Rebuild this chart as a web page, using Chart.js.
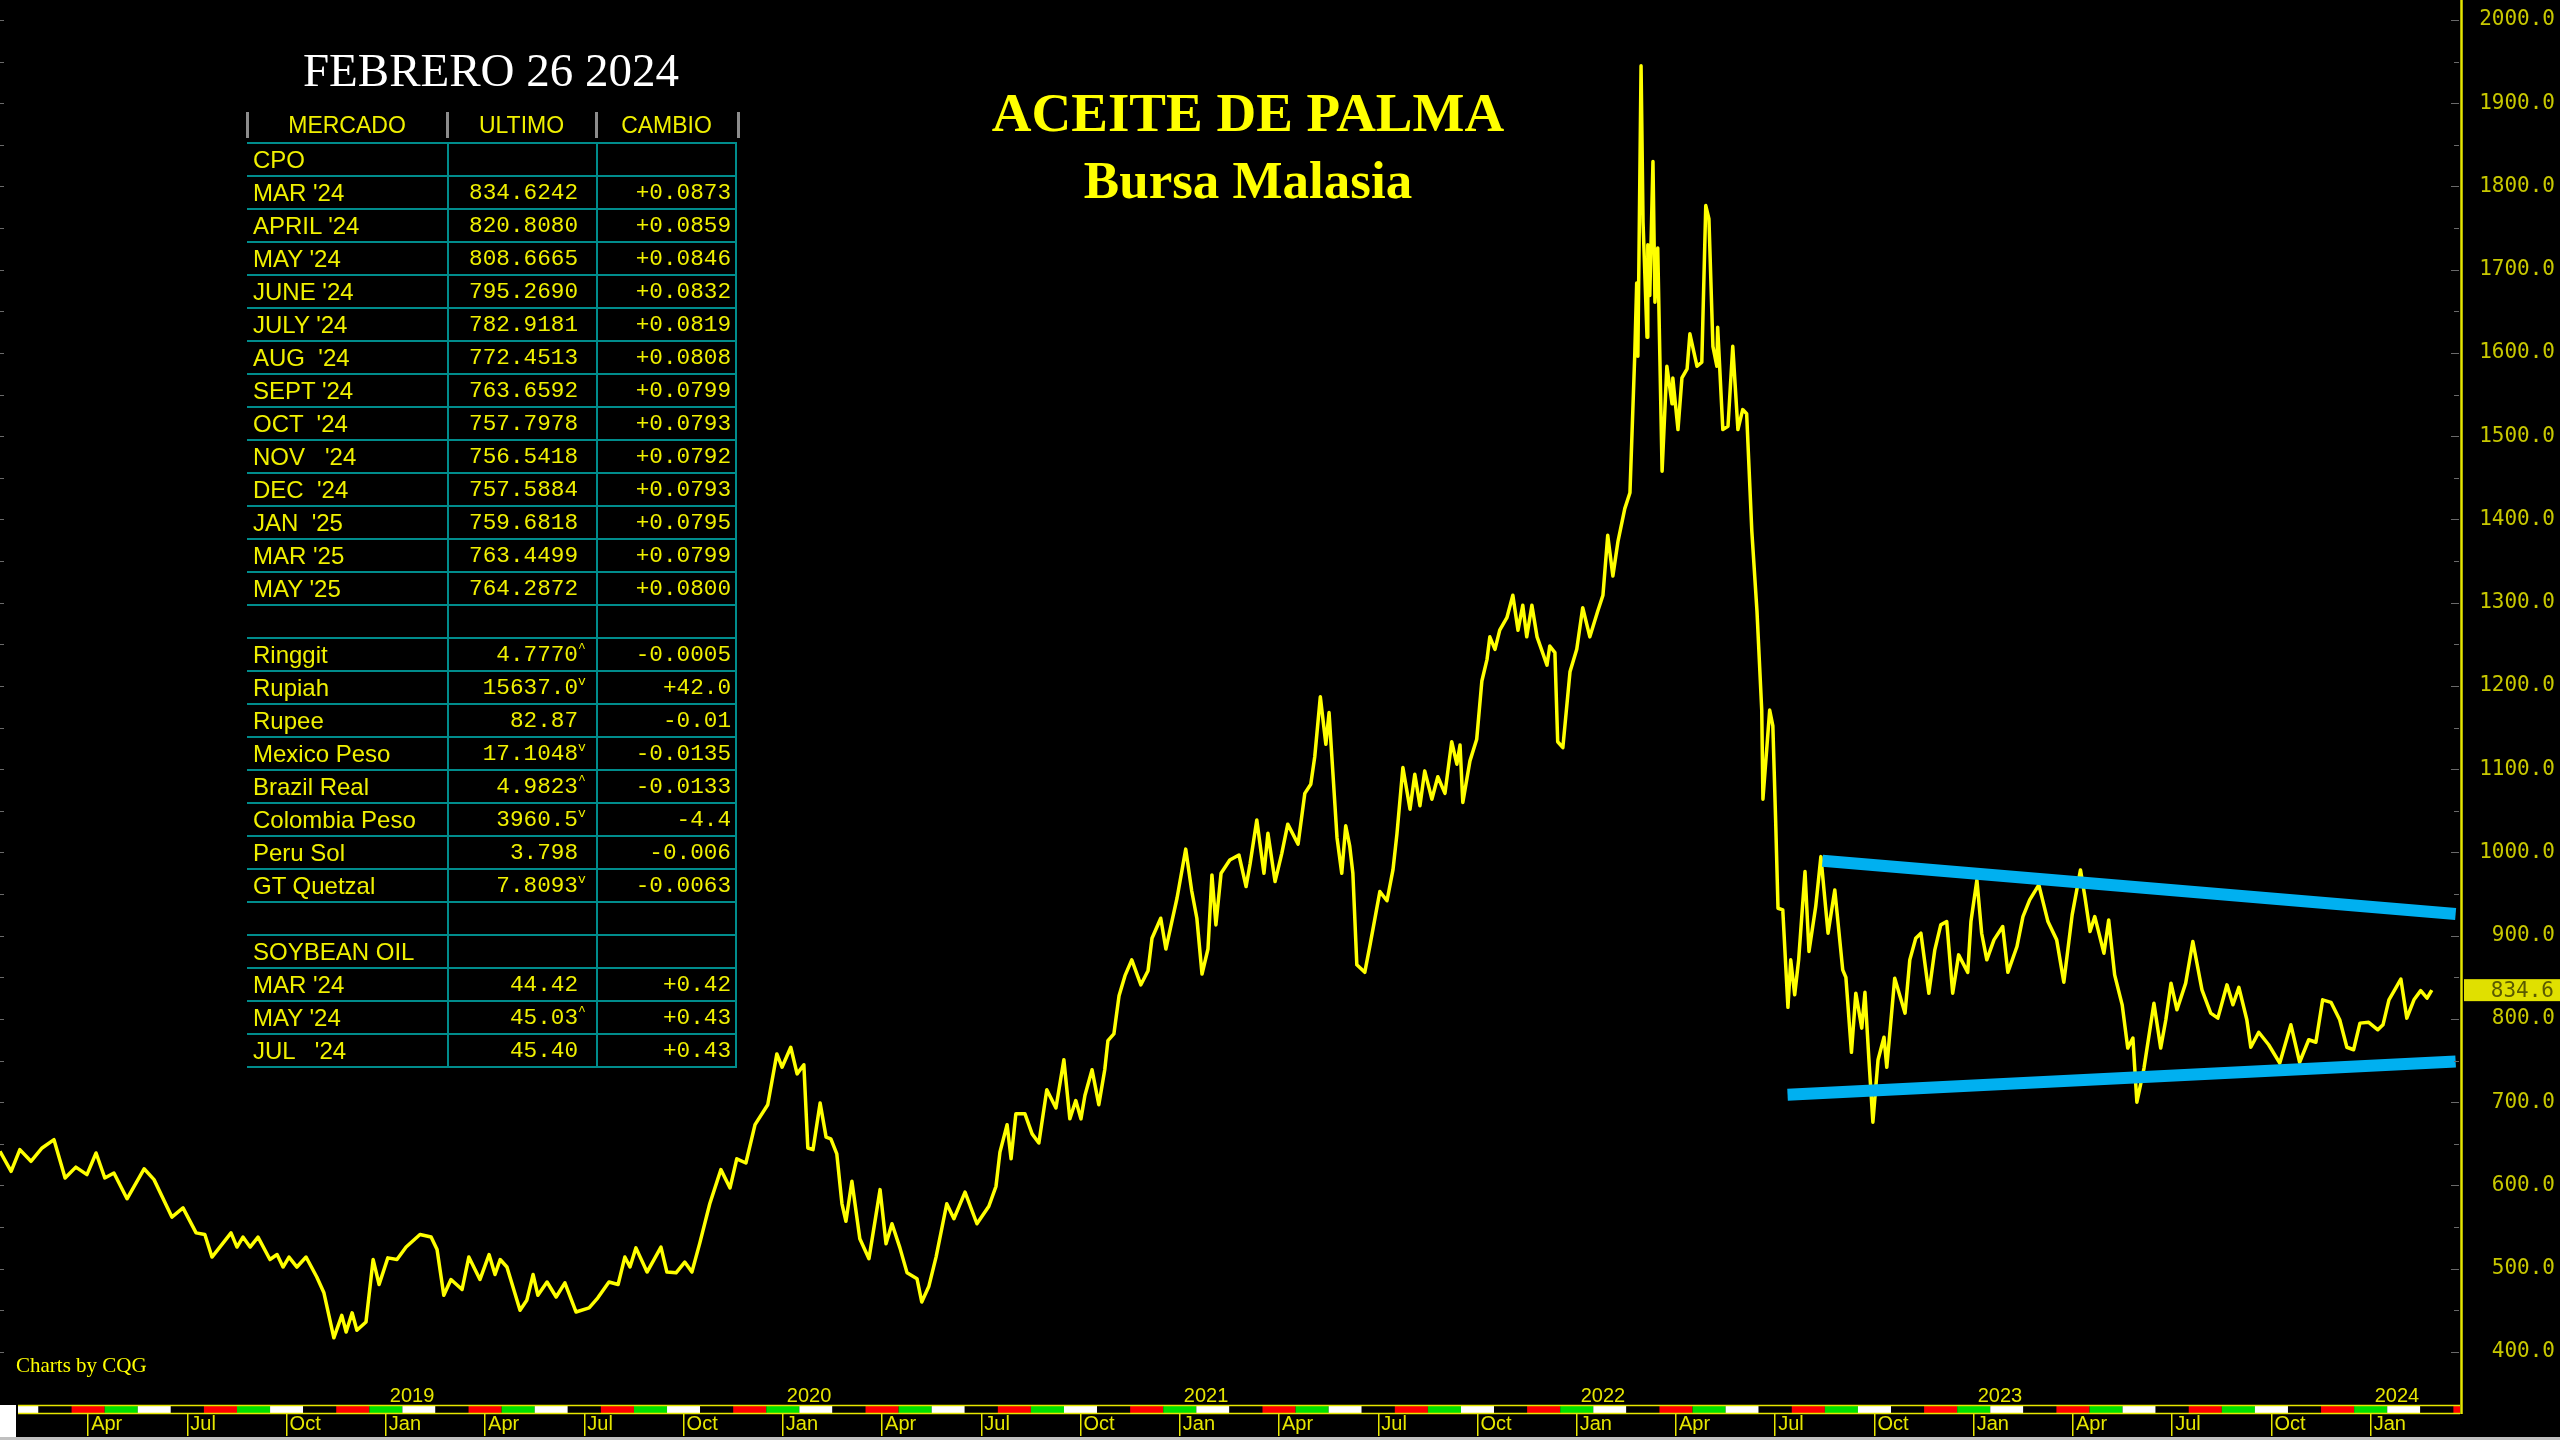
<!DOCTYPE html>
<html lang="es">
<head>
<meta charset="utf-8">
<title>Aceite de Palma - Bursa Malasia</title>
<script src="https://cdn.jsdelivr.net/npm/chart.js@4.4.1/dist/chart.umd.min.js"></script>
<style>
  html, body { margin: 0; padding: 0; background: #000; }
  #lienzo { position: relative; width: 2560px; height: 1440px; overflow: hidden; background: #000; }
  #grafico { position: absolute; left: 0; top: 0; }
  .texto { position: absolute; white-space: nowrap; }
  #fecha { left: 191px; top: 47px; width: 600px; text-align: center; font: 47px/47px 'Liberation Serif', serif; color: #fff; }
  #titulo { left: 948px; top: 85px; width: 600px; text-align: center; font: bold 55px/55px 'Liberation Serif', serif; color: #ffff00; }
  #subtitulo { left: 948px; top: 154px; width: 600px; text-align: center; font: bold 53px/53px 'Liberation Serif', serif; color: #ffff00; }
  #firma { left: 16px; top: 1355px; font: 21px/21px 'Liberation Serif', serif; color: #ffff00; }

  #tabla { position: absolute; left: 247px; top: 109px; border-collapse: separate; border-spacing: 0; table-layout: fixed; color: #f0f000; }
  #tabla th { position: relative; height: 35px; box-sizing: border-box; padding: 0; font: 23px 'Liberation Sans', Arial, sans-serif; font-weight: normal; text-align: center; border-bottom: 2px solid #008c8c; }
  #tabla th::before { content: ''; position: absolute; left: -1px; top: 3px; height: 26px; border-left: 3px solid #8c8c8c; }
  #tabla th:last-child::after { content: ''; position: absolute; right: -3px; top: 3px; height: 26px; border-left: 3px solid #8c8c8c; }
  #tabla td { height: 33px; box-sizing: border-box; padding: 0; border-bottom: 2px solid #008c8c; white-space: pre; vertical-align: middle; }
  #tabla td.mercado { padding-left: 6px; font: 24px 'Liberation Sans', Arial, sans-serif; }
  #tabla td.ultimo { border-left: 2px solid #008c8c; text-align: right; padding-right: 2px; font: 22.7px 'Liberation Mono', monospace; }
  #tabla td.cambio { border-left: 2px solid #008c8c; border-right: 2px solid #008c8c; text-align: right; padding-right: 4px; font: 22.7px 'Liberation Mono', monospace; }
  #tabla .marca { display: inline-block; width: 16px; text-align: left; font-size: 13px; vertical-align: 9px; }
</style>
</head>
<body>
<div id="lienzo">
  <canvas id="grafico" width="2560" height="1440"></canvas>
  <div class="texto" id="fecha">FEBRERO 26 2024</div>
  <div class="texto" id="titulo">ACEITE DE PALMA</div>
  <div class="texto" id="subtitulo">Bursa Malasia</div>
  <div class="texto" id="firma">Charts by CQG</div>
  <table id="tabla">
    <thead><tr><th style="width:200px">MERCADO</th><th style="width:149px">ULTIMO</th><th style="width:141px">CAMBIO</th></tr></thead>
    <tbody id="cuerpo-tabla"></tbody>
  </table>
</div>
<script>
// Precio diario del CPO (fecha en año decimal)
const fechas = [
  2018.028, 2018.056, 2018.078, 2018.106, 2018.134, 2018.164, 2018.192, 2018.219, 2018.247, 2018.270,
  2018.292, 2018.315, 2018.348, 2018.391, 2018.416, 2018.461, 2018.489, 2018.522, 2018.544, 2018.562,
  2018.610, 2018.625, 2018.640, 2018.658, 2018.678, 2018.708, 2018.726, 2018.741, 2018.756, 2018.776,
  2018.799, 2018.826, 2018.844, 2018.869, 2018.889, 2018.900, 2018.915, 2018.927, 2018.950, 2018.968,
  2018.983, 2019.005, 2019.028, 2019.051, 2019.086, 2019.114, 2019.129, 2019.146, 2019.164, 2019.192,
  2019.209, 2019.237, 2019.260, 2019.275, 2019.288, 2019.305, 2019.338, 2019.355, 2019.371, 2019.383,
  2019.406, 2019.429, 2019.451, 2019.479, 2019.512, 2019.534, 2019.562, 2019.585, 2019.602, 2019.615,
  2019.630, 2019.658, 2019.693, 2019.708, 2019.731, 2019.753, 2019.771, 2019.791, 2019.816, 2019.844,
  2019.867, 2019.884, 2019.907, 2019.930, 2019.962, 2019.985, 2019.998, 2020.020, 2020.036, 2020.053,
  2020.063, 2020.076, 2020.094, 2020.109, 2020.121, 2020.136, 2020.149, 2020.159, 2020.174, 2020.194,
  2020.217, 2020.245, 2020.260, 2020.275, 2020.295, 2020.313, 2020.338, 2020.350, 2020.368, 2020.386,
  2020.413, 2020.431, 2020.459, 2020.489, 2020.519, 2020.537, 2020.547, 2020.565, 2020.575, 2020.587,
  2020.610, 2020.628, 2020.645, 2020.665, 2020.688, 2020.708, 2020.723, 2020.738, 2020.751, 2020.761,
  2020.779, 2020.796, 2020.811, 2020.819, 2020.834, 2020.847, 2020.862, 2020.879, 2020.902, 2020.920,
  2020.930, 2020.952, 2020.965, 2020.980, 2020.993, 2021.015, 2021.030, 2021.043, 2021.056, 2021.071,
  2021.081, 2021.091, 2021.104, 2021.126, 2021.149, 2021.167, 2021.177, 2021.194, 2021.212, 2021.222,
  2021.240, 2021.257, 2021.272, 2021.298, 2021.315, 2021.330, 2021.340, 2021.354, 2021.368, 2021.376,
  2021.391, 2021.396, 2021.408, 2021.418, 2021.428, 2021.436, 2021.446, 2021.466, 2021.479, 2021.504,
  2021.522, 2021.537, 2021.547, 2021.562, 2021.580, 2021.592, 2021.605, 2021.617, 2021.635, 2021.650,
  2021.668, 2021.685, 2021.698, 2021.706, 2021.713, 2021.731, 2021.748, 2021.761, 2021.774, 2021.781,
  2021.794, 2021.806, 2021.824, 2021.839, 2021.852, 2021.864, 2021.874, 2021.887, 2021.900, 2021.925,
  2021.932, 2021.945, 2021.952, 2021.965, 2021.983, 2022.000, 2022.015, 2022.033, 2022.053, 2022.066,
  2022.078, 2022.091, 2022.104, 2022.121, 2022.134, 2022.146, 2022.151, 2022.154, 2022.162, 2022.167,
  2022.177, 2022.179, 2022.184, 2022.192, 2022.197, 2022.204, 2022.215, 2022.227, 2022.240, 2022.242,
  2022.255, 2022.265, 2022.278, 2022.285, 2022.303, 2022.315, 2022.325, 2022.333, 2022.343, 2022.353,
  2022.355, 2022.368, 2022.381, 2022.393, 2022.406, 2022.418, 2022.428, 2022.441, 2022.454, 2022.466,
  2022.469, 2022.486, 2022.494, 2022.501, 2022.507, 2022.519, 2022.532, 2022.539, 2022.549, 2022.559,
  2022.575, 2022.585, 2022.602, 2022.615, 2022.633, 2022.650, 2022.670, 2022.678, 2022.692, 2022.703,
  2022.718, 2022.726, 2022.736, 2022.746, 2022.759, 2022.774, 2022.781, 2022.801, 2022.827, 2022.839,
  2022.854, 2022.867, 2022.887, 2022.902, 2022.917, 2022.932, 2022.947, 2022.962, 2022.985, 2022.993,
  2023.008, 2023.020, 2023.033, 2023.051, 2023.073, 2023.086, 2023.109, 2023.124, 2023.141, 2023.164,
  2023.187, 2023.209, 2023.227, 2023.248, 2023.269, 2023.280, 2023.293, 2023.305, 2023.328, 2023.340,
  2023.355, 2023.374, 2023.388, 2023.401, 2023.411, 2023.429, 2023.454, 2023.471, 2023.484, 2023.497,
  2023.512, 2023.534, 2023.552, 2023.575, 2023.597, 2023.615, 2023.638, 2023.653, 2023.668, 2023.688,
  2023.698, 2023.718, 2023.743, 2023.771, 2023.799, 2023.821, 2023.844, 2023.862, 2023.879, 2023.900,
  2023.922, 2023.940, 2023.957, 2023.973, 2023.995, 2024.018, 2024.031, 2024.046, 2024.063, 2024.076,
  2024.091, 2024.109, 2024.126, 2024.142, 2024.154
];
const precios = [
  641, 617, 643, 629, 645, 655, 609, 622, 613, 639,
  609, 615, 584, 620, 607, 562, 573, 543, 541, 514,
  543, 526, 538, 526, 538, 511, 517, 502, 514, 502,
  514, 490, 471, 417, 444, 424, 447, 426, 436, 511,
  481, 513, 511, 526, 541, 538, 523, 468, 487, 475,
  514, 487, 517, 493, 511, 502, 450, 462, 493, 468,
  484, 466, 483, 448, 453, 465, 484, 481, 514, 502,
  525, 496, 526, 496, 495, 508, 496, 531, 578, 619,
  597, 632, 627, 673, 697, 758, 742, 766, 734, 745,
  645, 643, 699, 658, 656, 638, 578, 557, 605, 536,
  512, 595, 530, 554, 525, 495, 488, 460, 479, 514,
  578, 560, 592, 554, 575, 599, 640, 673, 632, 686,
  686, 662, 651, 715, 693, 751, 680, 702, 680, 708,
  739, 697, 739, 774, 782, 828, 852, 871, 841, 858,
  897, 921, 884, 917, 945, 1004, 954, 921, 854, 884,
  973, 913, 975, 991, 997, 959, 986, 1039, 975, 1023,
  965, 999, 1034, 1010, 1071, 1082, 1115, 1187, 1130, 1168,
  1056, 1018, 975, 1032, 1008, 975, 865, 856, 888, 953,
  942, 979, 1022, 1102, 1052, 1094, 1056, 1098, 1064, 1091,
  1071, 1133, 1106, 1129, 1060, 1110, 1136, 1206, 1232, 1259,
  1244, 1267, 1282, 1309, 1267, 1297, 1259, 1297, 1259, 1225,
  1248, 1240, 1133, 1126, 1217, 1244, 1294, 1259, 1290, 1309,
  1381, 1332, 1374, 1413, 1432, 1596, 1684, 1596, 1945, 1757,
  1619, 1730, 1669, 1830, 1661, 1726, 1458, 1584, 1539, 1570,
  1508, 1570, 1581, 1623, 1584, 1589, 1777, 1761, 1608, 1584,
  1631, 1508, 1512, 1608, 1508, 1532, 1527, 1386, 1290, 1171,
  1064, 1171, 1152, 1039, 933, 931, 814, 871, 829, 871,
  977, 881, 935, 995, 903, 955, 859, 850, 760, 831,
  789, 832, 751, 676, 751, 778, 742, 849, 807, 871,
  897, 903, 831, 883, 913, 917, 831, 877, 856, 917,
  967, 903, 871, 895, 911, 856, 887, 923, 943, 961,
  917, 895, 844, 925, 979, 947, 905, 923, 879, 919,
  853, 817, 765, 777, 700, 741, 819, 765, 799, 843,
  811, 843, 893, 835, 807, 801, 841, 817, 838, 799,
  766, 784, 769, 747, 793, 748, 775, 772, 823, 820,
  799, 766, 763, 795, 796, 787, 793, 823, 837, 848,
  801, 823, 834, 825, 834.6
];

// Líneas de tendencia (triángulo)
const tendSupFechas = [2022.619, 2024.214];
const tendSupPrecios = [990, 926];
const tendInfFechas = [2022.531, 2024.214];
const tendInfPrecios = [709, 749];

// Ejes
const valoresEjeY = [400, 500, 600, 700, 800, 900, 1000, 1100, 1200, 1300, 1400, 1500, 1600, 1700, 1800, 1900, 2000];
const anios = ['2019', '2020', '2021', '2022', '2023', '2024'];
const mesesTrimestre = ['Jan', 'Apr', 'Jul', 'Oct'];

// Tabla de mercados
const mercados = ['CPO', "MAR '24", "APRIL '24", "MAY '24", "JUNE '24", "JULY '24", "AUG  '24", "SEPT '24", "OCT  '24", "NOV   '24", "DEC  '24", "JAN  '25", "MAR '25", "MAY '25", '',
  'Ringgit', 'Rupiah', 'Rupee', 'Mexico Peso', 'Brazil Real', 'Colombia Peso', 'Peru Sol', 'GT Quetzal', '',
  'SOYBEAN OIL', "MAR '24", "MAY '24", "JUL   '24"];
const ultimos = ['', '834.6242', '820.8080', '808.6665', '795.2690', '782.9181', '772.4513', '763.6592', '757.7978', '756.5418', '757.5884', '759.6818', '763.4499', '764.2872', '',
  '4.7770', '15637.0', '82.87', '17.1048', '4.9823', '3960.5', '3.798', '7.8093', '',
  '', '44.42', '45.03', '45.40'];
const marcas = ['', '', '', '', '', '', '', '', '', '', '', '', '', '', '',
  '^', 'v', '', 'v', '^', 'v', '', 'v', '',
  '', '', '^', ''];
const cambios = ['', '+0.0873', '+0.0859', '+0.0846', '+0.0832', '+0.0819', '+0.0808', '+0.0799', '+0.0793', '+0.0792', '+0.0793', '+0.0795', '+0.0799', '+0.0800', '',
  '-0.0005', '+42.0', '-0.01', '-0.0135', '-0.0133', '-4.4', '-0.006', '-0.0063', '',
  '', '+0.42', '+0.43', '+0.43'];

const X_MIN = 2018.028;
const X_MAX = 2024.225;
const coloresFranja = ['#ffffff', '#000000', '#ff0000', '#00e000']; // por mes, ciclo de 4
const AMARILLO = '#e6e600';

function construirTabla() {
  const cuerpo = document.getElementById('cuerpo-tabla');
  mercados.forEach((m, i) => {
    const fila = document.createElement('tr');
    fila.innerHTML = `<td class="mercado">${m}</td>` +
      `<td class="ultimo">${ultimos[i]}<span class="marca">${marcas[i]}</span></td>` +
      `<td class="cambio">${cambios[i]}</td>`;
    cuerpo.appendChild(fila);
  });
}

const decoracion = {
  id: 'decoracion',
  afterDraw(chart) {
    const { ctx, chartArea: area, scales } = chart;
    const x = scales.x, y = scales.y, xMes = scales.xMes;
    ctx.save();

    // marcas menores de precio (cada 50)
    ctx.strokeStyle = '#6a6a6a';
    ctx.lineWidth = 1;
    for (let v = 400; v <= 2000; v += 50) {
      const py = Math.round(y.getPixelForValue(v)) + 0.5;
      const largo = v % 100 === 0 ? 9 : 6;
      ctx.beginPath();
      ctx.moveTo(area.right - largo, py); ctx.lineTo(area.right - 1, py);
      ctx.moveTo(0, py); ctx.lineTo(4, py);
      ctx.stroke();
    }

    // franja de colores por mes
    const fTop = xMes.top + 1, fBot = xMes.top + 8, x0 = 18;
    for (let a = 2017; a <= 2024; a++) {
      for (let m = 0; m < 12; m++) {
        let p1 = x.getPixelForValue(a + (m + 0.5) / 12);
        let p2 = x.getPixelForValue(a + (m + 1.5) / 12);
        if (p2 <= x0 || p1 >= area.right) continue;
        p1 = Math.max(p1, x0); p2 = Math.min(p2, area.right);
        ctx.fillStyle = coloresFranja[m % 4];
        ctx.fillRect(p1, fTop, p2 - p1, fBot - fTop);
      }
    }
    ctx.strokeStyle = AMARILLO;
    ctx.lineWidth = 1.5;
    ctx.beginPath();
    ctx.moveTo(x0, fTop - 0.5); ctx.lineTo(area.right, fTop - 0.5);
    ctx.moveTo(x0, fBot + 0.5); ctx.lineTo(area.right, fBot + 0.5);
    ctx.stroke();

    // eje vertical derecho
    ctx.lineWidth = 2.5;
    ctx.beginPath();
    ctx.moveTo(area.right + 1.5, 0); ctx.lineTo(area.right + 1.5, fBot + 1);
    ctx.stroke();

    // cuadro blanco y borde inferior
    ctx.fillStyle = '#ffffff';
    ctx.fillRect(0, fTop - 1, 16, chart.height - fTop - 2);
    ctx.fillStyle = '#c0c0c0';
    ctx.fillRect(0, chart.height - 3, chart.width, 3);

    // etiqueta del último precio
    const ultimo = precios[precios.length - 1];
    const py = y.getPixelForValue(ultimo);
    ctx.fillStyle = '#e0e000';
    ctx.fillRect(area.right + 4, py - 11, chart.width - area.right - 4, 22);
    ctx.fillStyle = '#5a5a00';
    ctx.font = "21px 'DejaVu Sans Mono', monospace";
    ctx.textAlign = 'right';
    ctx.textBaseline = 'middle';
    ctx.fillText(ultimo.toFixed(1), chart.width - 6, py + 1);
    ctx.restore();
  }
};

function crearGrafico() {
  const ctx = document.getElementById('grafico').getContext('2d');
  const serie = fechas.map((f, i) => ({ x: f, y: precios[i] }));
  const tendSup = tendSupFechas.map((f, i) => ({ x: f, y: tendSupPrecios[i] }));
  const tendInf = tendInfFechas.map((f, i) => ({ x: f, y: tendInfPrecios[i] }));

  const ticksMes = [];
  for (let a = 2018; a <= 2024; a++) {
    mesesTrimestre.forEach((m, i) => {
      const v = a + i / 4;
      if (v > X_MIN && v < X_MAX) ticksMes.push({ value: v });
    });
  }

  new Chart(ctx, {
    type: 'line',
    data: {
      datasets: [
        { label: 'Tendencia superior', data: tendSup, borderColor: '#00b0f0', borderWidth: 12, pointRadius: 0, borderCapStyle: 'butt' },
        { label: 'Tendencia inferior', data: tendInf, borderColor: '#00b0f0', borderWidth: 12, pointRadius: 0, borderCapStyle: 'butt' },
        { label: 'CPO', data: serie, borderColor: '#ffff00', borderWidth: 3.5, pointRadius: 0, tension: 0, borderJoinStyle: 'round' }
      ]
    },
    options: {
      responsive: false,
      devicePixelRatio: 1,
      animation: false,
      layout: { padding: { left: 0, top: 0, bottom: 0, right: 5 } },
      plugins: { legend: { display: false }, tooltip: { enabled: false } },
      scales: {
        x: {
          type: 'linear', position: 'bottom', weight: 0,
          min: X_MIN, max: X_MAX,
          afterBuildTicks: s => { s.ticks = anios.map(a => ({ value: +a })); },
          afterFit: s => { s.height = 20; s.paddingLeft = 0; s.paddingRight = 0; },
          grid: { display: false, drawTicks: false },
          border: { display: false },
          ticks: {
            autoSkip: false, maxRotation: 0, minRotation: 0, align: 'start', labelOffset: 4, padding: -1,
            color: AMARILLO, font: { family: "'Liberation Sans', Arial, sans-serif", size: 20 },
            callback: v => String(Math.round(v))
          }
        },
        xMes: {
          type: 'linear', position: 'bottom', weight: 1,
          min: X_MIN, max: X_MAX,
          afterBuildTicks: s => { s.ticks = ticksMes.map(t => ({ value: t.value })); },
          afterFit: s => { s.height = 35; s.paddingLeft = 0; s.paddingRight = 0; },
          grid: { display: true, drawOnChartArea: false, drawTicks: true, tickLength: 31, color: AMARILLO, lineWidth: 1.5 },
          border: { display: false },
          ticks: {
            autoSkip: false, maxRotation: 0, minRotation: 0, align: 'start', labelOffset: 3, padding: -24,
            color: AMARILLO, font: { family: "'Liberation Sans', Arial, sans-serif", size: 20 },
            callback: v => mesesTrimestre[Math.round((v - Math.floor(v + 0.001)) * 4) % 4]
          }
        },
        y: {
          type: 'linear', position: 'right',
          min: 360.3, max: 2024,
          afterBuildTicks: s => { s.ticks = valoresEjeY.map(v => ({ value: v })); },
          afterFit: s => { s.width = 95; s.paddingTop = 0; s.paddingBottom = 0; },
          grid: { display: false, drawTicks: false },
          border: { display: false },
          ticks: {
            autoSkip: false, crossAlign: 'far', padding: 6,
            color: '#c8c800', font: { family: "'DejaVu Sans Mono', monospace", size: 21 },
            callback: v => v.toFixed(1)
          }
        }
      }
    },
    plugins: [decoracion]
  });
}

window.addEventListener('DOMContentLoaded', () => {
  construirTabla();
  crearGrafico();
});
</script>
</body>
</html>
